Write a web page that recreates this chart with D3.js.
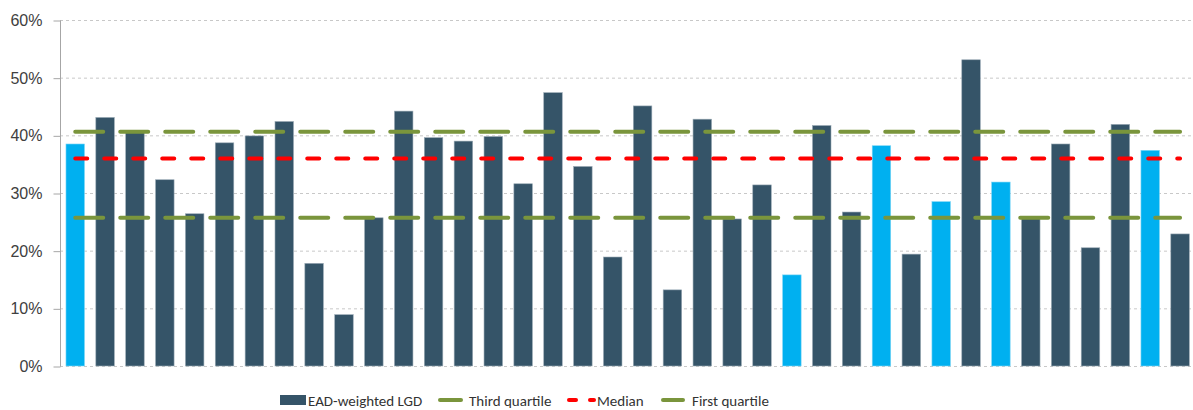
<!DOCTYPE html>
<html><head><meta charset="utf-8">
<script src="https://cdn.jsdelivr.net/npm/d3@7"></script>
<style>
html,body{margin:0;padding:0;background:#fff;}
svg{display:block;font-family:Carlito,Lato,"Open Sans",sans-serif;}
</style></head>
<body><svg id="c" width="1193" height="410"></svg>
<script>
const categories = d3.range(1, 39).map(String);
const lgdValues = [38.5,43.1,40.6,32.3,26.4,38.7,39.9,42.4,17.8,8.9,25.7,44.2,39.6,39.0,39.8,31.6,47.4,34.6,18.9,45.1,13.2,42.8,25.5,31.4,15.8,41.7,26.7,38.2,19.4,28.5,53.1,31.9,25.8,38.5,20.5,41.9,37.4,22.9];
const highlighted = [1,0,0,0,0,0,0,0,0,0,0,0,0,0,0,0,0,0,0,0,0,0,0,0,1,0,0,1,0,1,0,1,0,0,0,0,1,0];
const thirdQuartile = 40.6;
const median = 36.0;
const firstQuartile = 25.7;
const yTicks = [0,10,20,30,40,50,60];
const legendLabels = ["EAD-weighted LGD","Third quartile","Median","First quartile"];

const svg = d3.select("#c");
const x = d3.scaleBand().domain(categories).range([60.3, 1195]).paddingInner(0.38).paddingOuter(0.19);
const y = d3.scaleLinear().domain([0,60]).range([366,20]);

// gridlines
svg.append("g").selectAll("line").data(yTicks).join("line")
  .attr("x1",60).attr("x2",1193).attr("y1",d=>y(d)+0.5).attr("y2",d=>y(d)+0.5)
  .attr("stroke","#c8c8c8").attr("stroke-width",1).attr("stroke-dasharray","3,3");

// y axis
const yAxis = d3.axisLeft(y).tickValues(yTicks).tickFormat(d=>d+"%").tickSize(7).tickPadding(11);
const ga = svg.append("g").attr("transform","translate(60.5,0.5)").call(yAxis);
ga.select(".domain").attr("stroke","#a6a6a6").attr("d","M0,"+y(60)+"V"+y(0));
ga.selectAll(".tick line").attr("stroke","#a6a6a6");
ga.selectAll(".tick text").attr("fill","#404040").style("font-size","16px").attr("font-family",null);

// bars
svg.append("g").selectAll("rect").data(lgdValues).join("rect")
  .attr("x",(d,i)=>x(categories[i])).attr("width",x.bandwidth())
  .attr("y",d=>y(d)).attr("height",d=>y(0)-y(d))
  .attr("fill",(d,i)=>highlighted[i]?"#00b0f0":"#355468")
  .attr("stroke",(d,i)=>highlighted[i]?"#7fd6f6":"#9aaab5").attr("stroke-width",0.6);

// reference lines
const x0 = x(categories[0]) + x.bandwidth()/2;
const x1 = x(categories[categories.length-1]) + x.bandwidth()/2;
const refs = [
  {v:thirdQuartile, c:"#7a953c", dash:"28,17"},
  {v:median, c:"#ff0000", dash:"12,17"},
  {v:firstQuartile, c:"#7a953c", dash:"28,17"}
];
svg.append("g").selectAll("line").data(refs).join("line")
  .attr("x1",x0).attr("x2",x1).attr("y1",d=>y(d.v)).attr("y2",d=>y(d.v))
  .attr("stroke",d=>d.c).attr("stroke-width",4).attr("stroke-linecap","round")
  .attr("stroke-dasharray",d=>d.dash);

// legend
const lg = svg.append("g").style("font-size","15px").attr("fill","#333333");
lg.append("rect").attr("x",280).attr("y",395).attr("width",26).attr("height",10).attr("fill","#355468");
lg.append("text").attr("x",308).attr("y",406).text(legendLabels[0]);
lg.append("line").attr("x1",440).attr("x2",461).attr("y1",400).attr("y2",400).attr("stroke","#7a953c").attr("stroke-width",4).attr("stroke-linecap","round");
lg.append("text").attr("x",469).attr("y",406).text(legendLabels[1]);
lg.append("line").attr("x1",569).attr("x2",576).attr("y1",400).attr("y2",400).attr("stroke","#ff0000").attr("stroke-width",4).attr("stroke-linecap","round");
lg.append("line").attr("x1",590).attr("x2",594).attr("y1",400).attr("y2",400).attr("stroke","#ff0000").attr("stroke-width",4).attr("stroke-linecap","round");
lg.append("text").attr("x",597).attr("y",406).text(legendLabels[2]);
lg.append("line").attr("x1",663).attr("x2",683).attr("y1",400).attr("y2",400).attr("stroke","#7a953c").attr("stroke-width",4).attr("stroke-linecap","round");
lg.append("text").attr("x",692).attr("y",406).text(legendLabels[3]);
</script></body></html>
